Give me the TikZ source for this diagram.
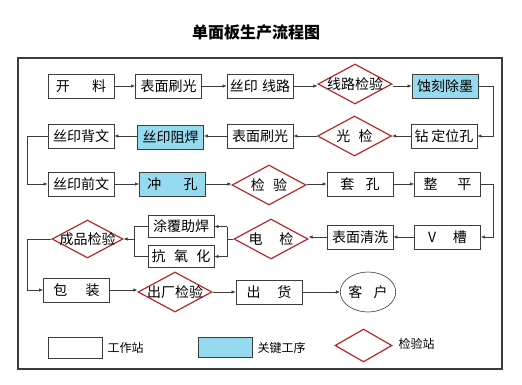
\documentclass[tikz,border=0pt]{standalone}
\usepackage{fontspec}
\setmainfont{Noto Sans CJK SC}
\usetikzlibrary{shapes.geometric,arrows.meta}
\definecolor{keyblue}{RGB}{150,218,240}
\definecolor{chkred}{RGB}{185,40,40}
\definecolor{ln}{RGB}{60,60,60}
\tikzset{
  stbox/.style={draw=ln,line width=0.8pt,minimum width=66pt,minimum height=24pt,inner sep=0pt,font=\fontsize{14pt}{14pt}\selectfont},
  keybox/.style={stbox,fill=keyblue},
  chk/.style={diamond,draw=chkred,line width=1.2pt,minimum width=74pt,minimum height=40pt,inner sep=0pt,font=\fontsize{14pt}{14pt}\selectfont},
  arr/.style={draw=ln,line width=0.6pt,-{Latex[length=4pt,width=3.5pt]}},
  ln/.style={draw=ln,line width=0.6pt},
}
\newcommand{\dt}[1]{\makebox[0pt]{#1}}
\begin{document}
\begin{tikzpicture}[x=1pt,y=-1pt]
\useasboundingbox (0,0) rectangle (522,384);
\node[font=\fontsize{16pt}{16pt}\selectfont\bfseries] (title) at (256,32) {单面板生产流程图};
\draw[draw=ln,line width=1.4pt] (18,58) rectangle (502,369);
\coordinate (rx) at (493,0);
\coordinate (lx) at (27,0);
% row 1
\node[stbox] (kl) at (81,86) {开\hspace{1.6em}料};
\node[stbox] (bm1) at (168.5,86) {表面刷光};
\node[stbox] (sx) at (260,86) {丝印\hspace{0.3em}线路};
\node[chk] (xj) at (355,84) {\dt{线路检验}};
\node[keybox] (sk) at (445,86) {蚀刻除墨};
% row 2
\node[stbox] (bw) at (81,136) {丝印背文};
\node[keybox] (zh) at (170.5,137) {丝印阻焊};
\node[stbox] (bm2) at (260,136) {表面刷光};
\node[chk] (gj) at (354.5,136) {\dt{光\hspace{0.6em}检}};
\node[stbox] (zd) at (444,136) {钻\hspace{0.2em}定位孔};
% row 3
\node[stbox] (qw) at (81,184) {丝印前文};
\node[keybox] (ck) at (172.5,184) {冲\hspace{1.6em}孔};
\node[chk] (jy) at (269,185) {\dt{检\hspace{0.6em}验}};
\node[stbox] (tk) at (360,184) {套\hspace{0.8em}孔};
\node[stbox] (zp) at (447.5,184) {整\hspace{1.4em}平};
% row 4
\node[stbox] (vc) at (447.5,237) {V\hspace{1.2em}槽};
\node[stbox] (qx) at (360,237) {表面清洗};
\node[chk] (dj) at (271,239) {\dt{电\hspace{1.2em}检}};
\node[stbox,minimum height=22pt] (tf) at (181,226.5) {涂覆助焊};
\node[stbox,minimum height=22pt] (ky) at (181,256.5) {抗\hspace{0.6em}氧\hspace{0.6em}化};
\node[chk,minimum width=71pt,minimum height=38pt] (cp) at (87.5,239) {\dt{成品检验}};
% row 5
\node[stbox] (bz) at (76.5,290) {包\hspace{1.3em}装};
\node[chk] (cc) at (175,292) {\dt{出厂检验}};
\node[stbox] (ch) at (269,292) {出\hspace{1.2em}货};
\node[ellipse,draw=ln,line width=0.6pt,minimum width=52pt,minimum height=40pt,inner sep=0pt,font=\fontsize{14pt}{14pt}\selectfont] (kh) at (368,292) {客\hspace{0.8em}户};
% connectors row 1
\draw[arr] (kl.east) -- (bm1.west);
\draw[arr] (bm1.east) -- (sx.west);
\draw[arr] (sx.east) -- (xj.west |- sx.east);
\draw[arr] (xj.east |- sk.west) -- (sk.west);
\draw[arr] (sk.east) -- (sk.east -| rx) |- (zd.east);
% row 2
\draw[arr] (zd.west) -- (gj.east);
\draw[arr] (gj.west) -- (bm2.east);
\draw[arr] (bm2.west) -- (bm2.west -| zh.east);
\draw[arr] (zh.west |- bw.east) -- (bw.east);
\draw[arr] (bw.west) -- (bw.west -| lx) |- (qw.west);
% row 3
\draw[arr] (qw.east) -- (ck.west);
\draw[arr] (ck.east) -- (jy.west |- ck.east);
\draw[arr] (jy.east |- tk.west) -- (tk.west);
\draw[arr] (tk.east) -- (zp.west);
\draw[arr] (zp.east) -- (zp.east -| rx) |- (vc.east);
% row 4
\draw[arr] (vc.west) -- (qx.east);
\draw[arr] (qx.west) -- (dj.east |- qx.west);
\coordinate (br) at (227,239);
\coordinate (bl) at (134,239);
\draw[ln] (dj.west) -- (br);
\draw[ln] (br |- tf.east) -- (br |- ky.east);
\draw[arr] (br |- tf.east) -- (tf.east);
\draw[arr] (br |- ky.east) -- (ky.east);
\draw[ln] (tf.west) -- (bl |- tf.west) -- (bl |- ky.west) -- (ky.west);
\draw[arr] (bl) -- (cp.east);
\draw[arr] (cp.west) -- (cp.west -| lx) |- (bz.west);
% row 5
\draw[arr] (bz.east) -- (cc.west |- bz.east);
\draw[arr] (cc.east) -- (ch.west);
\draw[arr] (ch.east) -- (kh.west);
% legend
\node[stbox,minimum width=54pt,minimum height=21pt] (lg1) at (75,347.5) {};
\node[anchor=west,font=\fontsize{12pt}{12pt}\selectfont] (lt1) at (104,348) {工作站};
\node[keybox,minimum width=54pt,minimum height=20pt] (lg2) at (225,347) {};
\node[anchor=west,font=\fontsize{12pt}{12pt}\selectfont] (lt2) at (254,348) {关键工序};
\node[chk,minimum width=57pt,minimum height=33pt] (lg3) at (363.5,345.5) {};
\node[anchor=west,font=\fontsize{12pt}{12pt}\selectfont] (lt3) at (395,344) {检验站};
\end{tikzpicture}
\end{document}
